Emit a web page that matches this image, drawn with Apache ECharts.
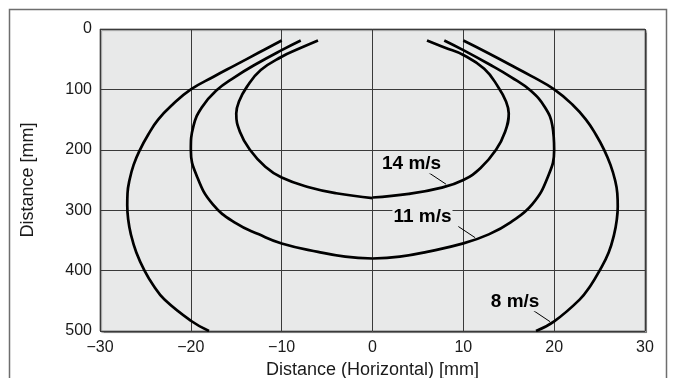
<!DOCTYPE html>
<html>
<head>
<meta charset="utf-8">
<script src="https://cdn.jsdelivr.net/npm/echarts@6/dist/echarts.min.js"></script>
<style>
  html, body { margin: 0; padding: 0; background: #ffffff; overflow: hidden; }
  #chart { width: 673px; height: 378px; }
</style>
</head>
<body>
<div id="chart"></div>
<script>
// Detection range profiles: [horizontal mm, distance mm], each half listed top to bottom
const curve8Left   = [[-10,19],[-12.5,39],[-15,59],[-17.5,79],[-20,100],[-22,125],[-23.6,150],[-24.7,175],[-25.6,200],[-26.3,225],[-26.75,250],[-26.97,272],[-27,292],[-26.9,315],[-26.6,340],[-26,370],[-25.1,400],[-24.1,425],[-22.9,448],[-20,483],[-18,500]];
const curve8Right  = [[10,19],[12.5,38],[15,58],[17.5,78],[20,100],[22,125],[23.5,150],[24.6,175],[25.5,200],[26.2,225],[26.7,250],[26.95,272],[27,294],[26.9,315],[26.6,340],[26,370],[25,400],[24,425],[22.8,448],[20,484],[18,500]];
const curve11Left  = [[-7.9,19],[-10,35],[-12.8,58],[-15.2,80],[-17.2,102],[-18.8,130],[-19.7,160],[-20,200],[-19.3,245],[-17.6,290],[-15,322],[-12.5,340],[-10,355],[-6,369],[-3,377],[0,380]];
const curve11Right = [[7.9,19],[10,35],[12.8,58],[15.3,80],[17.4,102],[19,130],[19.8,160],[20,200],[19.3,245],[17.6,290],[15.2,320],[12.8,340],[10,355],[6,369],[3,377],[0,380]];
const curve14Left  = [[-6,19],[-8,32],[-10,46],[-12.3,68],[-13.8,95],[-14.7,120],[-15,140],[-14.6,170],[-13.5,200],[-11.8,228],[-10,246],[-7,262],[-4,272],[0,280]];
const curve14Right = [[6,19],[8,31],[10,43],[12.3,66],[13.8,95],[14.7,120],[15,140],[14.6,170],[13.6,200],[11.9,230],[10,250],[7.5,263],[4,273],[0,279]];

// Speed labels and their leader lines (data coordinates)
const speedNames   = ['14 m/s', '11 m/s', '8 m/s'];
const labelCenters = [[4.3,223.5],[5.5,310.8],[15.7,451.5]];
const leaderStarts = [[6.1,237],[9.45,327],[17.5,464]];
const leaderEnds   = [[8.1,257],[11.3,345.5],[19.55,484.6]];

// Axis ticks
const xTicks = [-30, -20, -10, 0, 10, 20, 30];
const xTickLabels = ['\u221230', '\u221220', '\u221210', '0', '10', '20', '30'];
const yTicks = [0, 100, 200, 300, 400, 500];

const FONT = "'Liberation Sans', Arial, Helvetica, sans-serif";
const PLOT_BG = '#e8e9e9';

const chart = echarts.init(document.getElementById('chart'), null, { renderer: 'canvas' });

function curveSeries(data) {
  return {
    type: 'line',
    data: data,
    smooth: 0.45,
    symbol: 'none',
    silent: true,
    lineStyle: { color: '#000', width: 2.7 },
    z: 3
  };
}

const series = [
  curveSeries(curve8Left), curveSeries(curve8Right),
  curveSeries(curve11Left), curveSeries(curve11Right),
  curveSeries(curve14Left), curveSeries(curve14Right)
];

speedNames.forEach(function (name, i) {
  series.push({
    type: 'line',
    data: [leaderStarts[i], leaderEnds[i]],
    symbol: 'none',
    silent: true,
    lineStyle: { color: '#000', width: 1 },
    z: 4
  });
});

series.push({
  type: 'scatter',
  symbolSize: 0,
  silent: true,
  z: 5,
  itemStyle: { opacity: 1 },
  data: labelCenters.map(function (c, i) {
    return {
      value: c,
      name: speedNames[i],
      label: {
        show: true,
        position: 'inside',
        formatter: speedNames[i],
        fontFamily: FONT,
        fontWeight: 'bold',
        fontSize: 19,
        color: '#000',
        opacity: 1,
        backgroundColor: PLOT_BG,
        padding: [0, 1]
      }
    };
  })
});

chart.setOption({
  animation: false,
  backgroundColor: '#ffffff',
  graphic: [{
    type: 'rect',
    shape: { x: 9.5, y: 9.5, width: 657, height: 420 },
    style: { fill: 'none', stroke: '#6e6e6e', lineWidth: 1.5 },
    z: 0
  }],
  grid: {
    left: 100, top: 29, width: 545, height: 302,
    outerBoundsMode: 'none',
    containLabel: false,
    show: true,
    backgroundColor: PLOT_BG,
    borderColor: '#7a7a7a',
    borderWidth: 1,
    shadowColor: 'rgba(0,0,0,0.35)',
    shadowOffsetX: 1.5,
    shadowOffsetY: 1.5,
    shadowBlur: 1
  },
  xAxis: {
    type: 'value',
    min: xTicks[0], max: xTicks[xTicks.length - 1], interval: 10,
    axisLine: { show: false },
    axisTick: { show: false },
    splitLine: { show: true, lineStyle: { color: '#3a3a3a', width: 1 } },
    axisLabel: {
      margin: 9,
      fontFamily: FONT, fontSize: 16, color: '#1a1a1a',
      formatter: function (v) { return xTickLabels[xTicks.indexOf(v)]; }
    },
    name: 'Distance (Horizontal) [mm]',
    nameLocation: 'middle',
    nameGap: 30,
    nameTextStyle: { fontFamily: FONT, fontSize: 18, color: '#1a1a1a' }
  },
  yAxis: {
    type: 'value',
    inverse: true,
    min: yTicks[0], max: yTicks[yTicks.length - 1], interval: 100,
    axisLine: { show: false },
    axisTick: { show: false },
    splitLine: { show: true, lineStyle: { color: '#3a3a3a', width: 1 } },
    axisLabel: {
      margin: 8,
      fontFamily: FONT, fontSize: 16, color: '#1a1a1a'
    },
    name: 'Distance [mm]',
    nameLocation: 'middle',
    nameGap: 63,
    nameRotate: 90,
    nameTextStyle: { fontFamily: FONT, fontSize: 18, color: '#1a1a1a' }
  },
  series: series
});
</script>
</body>
</html>
